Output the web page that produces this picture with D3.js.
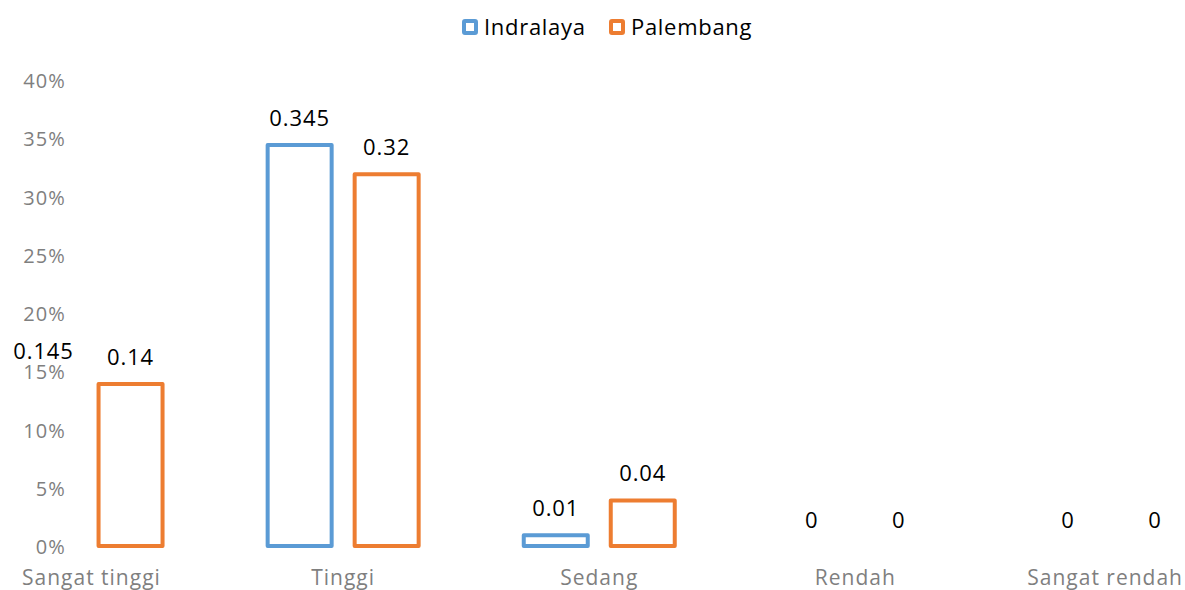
<!DOCTYPE html>
<html lang="en">
<head>
    <meta charset="UTF-8">
    <title>Indralaya vs Palembang</title>
    <script src="https://d3js.org/d3.v7.min.js"></script>
</head>
<style>
    body { margin: 0; background: #fff; }
    text { font-family: "Open Sans", "Noto Sans", sans-serif; }
</style>
<body>
<script>
    const categories = ["Sangat tinggi", "Tinggi", "Sedang", "Rendah", "Sangat rendah"];
    const seriesNames = ["Indralaya", "Palembang"];
    const indralaya = [0.145, 0.345, 0.01, 0, 0];
    const palembang = [0.14, 0.32, 0.04, 0, 0];
    const yTicks = [0, 0.05, 0.10, 0.15, 0.20, 0.25, 0.30, 0.35, 0.40];
    const colors = ["#5b9bd5", "#ed7d31"];

    const width = 1185, height = 590;
    const svg = d3.select("body").append("svg")
        .attr("width", width).attr("height", height);

    // plot area runs past the left edge like in the original export
    const x = d3.scaleBand().domain(categories).range([-41, 1239.5]);
    const y = d3.scaleLinear().domain([0, 0.4]).range([547, 81]);

    const barW = 64;
    const series = [indralaya, palembang];

    svg.append("clipPath").attr("id", "plotclip")
        .append("rect").attr("x", 80).attr("y", 0).attr("width", width - 80).attr("height", height);

    // y axis labels
    svg.append("g").selectAll("text").data(yTicks).join("text")
        .attr("x", 66).attr("y", d => y(d)).attr("dy", "0.35em")
        .attr("text-anchor", "end")
        .attr("font-size", 20).attr("letter-spacing", 1.1).attr("fill", "#7f7f7f")
        .text(d => d3.format(".0%")(d));

    const bars = svg.append("g").attr("clip-path", "url(#plotclip)");
    series.forEach((vals, si) => {
        const offset = (si === 0 ? -43.5 : 43.5);
        const rows = vals.map((v, i) => ({v, c: categories[i]}));
        bars.selectAll(".bar" + si).data(rows.filter(d => d.v > 0))
            .join("rect")
            .attr("class", "bar" + si)
            .attr("x", d => x(d.c) + x.bandwidth() / 2 + offset - barW / 2)
            .attr("y", d => y(d.v))
            .attr("width", barW)
            .attr("height", d => y(0) - y(d.v) - 1)
            .attr("fill", "#fff")
            .attr("stroke", colors[si])
            .attr("stroke-width", 4)
            .attr("stroke-linejoin", "round");

        // value labels
        svg.append("g").selectAll("text").data(rows)
            .join("text")
            .attr("x", d => x(d.c) + x.bandwidth() / 2 + offset)
            .attr("y", d => y(d.v) - 19)
            .attr("text-anchor", "middle")
            .attr("font-size", 22).attr("letter-spacing", 0.9).attr("fill", "#000")
            .text(d => d.v);
    });

    // category labels, kept inside the picture
    svg.append("g").selectAll("text").data(categories).join("text")
        .attr("x", d => x(d) + x.bandwidth() / 2)
        .attr("y", 585)
        .attr("text-anchor", "middle")
        .attr("font-size", 21).attr("letter-spacing", 1).attr("fill", "#7f7f7f")
        .text(d => d)
        .each(function () {
            const w = this.getComputedTextLength();
            const cx = +this.getAttribute("x");
            if (cx - w / 2 < 22) this.setAttribute("x", 22 + w / 2);
            if (cx + w / 2 > 1183) this.setAttribute("x", 1183 - w / 2);
        });

    // legend
    const legend = svg.append("g");
    const legX = [462, 609];
    seriesNames.forEach((name, i) => {
        legend.append("rect")
            .attr("x", legX[i] + 2).attr("y", 21).attr("width", 12).attr("height", 12)
            .attr("fill", "#fff").attr("stroke", colors[i]).attr("stroke-width", 4)
            .attr("rx", 1);
        legend.append("text")
            .attr("x", legX[i] + 22).attr("y", 27).attr("dy", "0.35em")
            .attr("font-size", 22).attr("letter-spacing", 0.7).attr("fill", "#000")
            .text(name);
    });
</script>
</body>
</html>
